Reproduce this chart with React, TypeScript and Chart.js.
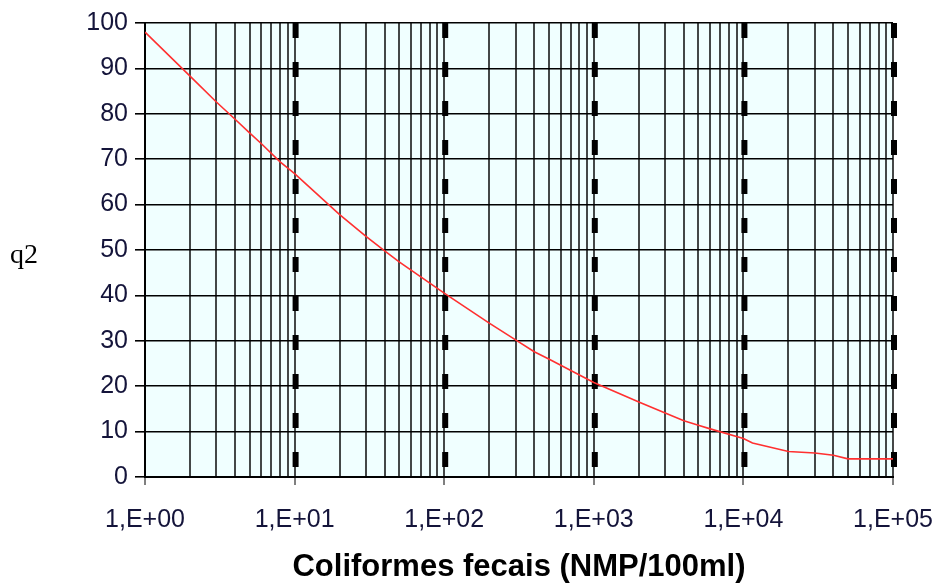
import React, { useEffect, useRef } from "react";
import { Chart, registerables } from "chart.js";

Chart.register(...registerables);

const coliformes: number[] = [1, 2, 3, 4, 5, 6, 8, 10, 20, 30, 40, 50, 100, 200, 300, 400, 500, 1000, 2000, 3000, 4000, 5000, 6000, 10000, 11500, 20000, 30000, 40000, 50000, 100000];
const q2Values: number[] = [98, 88.3, 82.6, 78.8, 75.8, 73.4, 69.4, 66.8, 57.8, 53.0, 49.8, 47.4, 40.5, 33.9, 30.2, 27.6, 26.0, 20.8, 16.5, 14.1, 12.4, 11.4, 10.6, 8.5, 7.5, 5.6, 5.3, 4.8, 4.0, 4.0];
const decades: number[] = [1, 10, 100, 1000, 10000, 100000];
const decadeLabels: string[] = ["1,E+00", "1,E+01", "1,E+02", "1,E+03", "1,E+04", "1,E+05"];
const yTicks: number[] = [0, 10, 20, 30, 40, 50, 60, 70, 80, 90, 100];
const xTitle = "Coliformes fecais (NMP/100ml)";
const yLabel = "q2";

const FONT = "'Liberation Sans', Arial, sans-serif";
const LABEL_COLOR = "#14143a";

const isDecade = (v: number) => decades.some((d) => Math.abs(d - v) < 1e-6 * d);

const bgPlugin = {
  id: "bgFill",
  beforeDraw(chart: any) {
    const { ctx, chartArea } = chart;
    ctx.save();
    ctx.fillStyle = "#f0ffff";
    ctx.fillRect(chartArea.left, chartArea.top, chartArea.right - chartArea.left, chartArea.bottom - chartArea.top);
    ctx.restore();
  },
};

const decadeDashPlugin = {
  id: "decadeDash",
  beforeDatasetsDraw(chart: any) {
    const { ctx, chartArea } = chart;
    const xs = chart.scales.x;
    ctx.save();
    ctx.strokeStyle = "#000";
    ctx.lineWidth = 6;
    ctx.setLineDash([15, 24]);
    decades.slice(1).forEach((d) => {
      const px = xs.getPixelForValue(d) + 1;
      ctx.beginPath();
      ctx.moveTo(px, chartArea.top);
      ctx.lineTo(px, chartArea.bottom);
      ctx.stroke();
    });
    ctx.restore();
  },
};

export default function App() {
  const ref = useRef<HTMLCanvasElement | null>(null);

  useEffect(() => {
    if (!ref.current) return;
    const points = coliformes.map((x, i) => ({ x, y: q2Values[i] }));
    const chart = new Chart(ref.current, {
      type: "line",
      data: {
        datasets: [
          {
            data: points,
            borderColor: "#ff3030",
            borderWidth: 1.6,
            pointRadius: 0,
            tension: 0,
            fill: false,
          },
        ],
      },
      options: {
        animation: false,
        responsive: false,
        layout: { padding: { left: 0, right: 48, top: 23, bottom: 0 } },
        plugins: { legend: { display: false }, tooltip: { enabled: false } },
        scales: {
          x: {
            type: "logarithmic",
            min: 1,
            max: 100000,
            afterBuildTicks: (scale: any) => {
              const t: any[] = [];
              for (let k = 0; k < 5; k++) {
                for (let m = 1; m <= 9; m++) t.push({ value: m * Math.pow(10, k), major: m === 1 });
              }
              t.push({ value: 100000, major: true });
              scale.ticks = t;
            },
            afterFit: (scale: any) => {
              scale.height = 111;
              scale.paddingLeft = 0;
              scale.paddingRight = 0;
            },
            ticks: {
              autoSkip: false,
              maxRotation: 0,
              minRotation: 0,
              padding: 20,
              color: LABEL_COLOR,
              font: { family: FONT, size: 25 },
              callback: (value: any) => {
                const v = Number(value);
                const idx = decades.findIndex((d) => Math.abs(d - v) < 1e-6 * d);
                return idx >= 0 ? decadeLabels[idx] : "";
              },
            },
            grid: {
              color: "rgba(0,0,0,0.72)",
              lineWidth: 2,
              tickLength: 8,
              tickWidth: 1,
              tickColor: (ctx: any) => (ctx.tick && isDecade(ctx.tick.value) ? "#000" : "rgba(0,0,0,0)"),
            },
            border: { display: true, color: "#000", width: 2 },
            title: {
              display: true,
              text: xTitle,
              color: "#000",
              font: { family: FONT, size: 31, weight: "bold" },
              padding: { top: 0, bottom: 2 },
            },
          },
          y: {
            type: "linear",
            min: 0,
            max: 100,
            afterBuildTicks: (scale: any) => {
              scale.ticks = yTicks.map((v) => ({ value: v }));
            },
            afterFit: (scale: any) => {
              scale.width = 145;
              scale.paddingTop = 0;
              scale.paddingBottom = 0;
            },
            ticks: {
              padding: 7,
              color: LABEL_COLOR,
              font: { family: FONT, size: 25 },
            },
            grid: {
              color: "#000",
              lineWidth: 1.6,
              tickLength: 10,
              tickColor: "#000",
              tickWidth: 1.6,
            },
            border: { display: true, color: "#000", width: 2 },
          },
        },
      },
      plugins: [bgPlugin, decadeDashPlugin],
    } as any);
    return () => chart.destroy();
  }, []);

  return (
    <div style={{ position: "absolute", left: 0, top: 0, width: 941, height: 588, background: "#fff" }}>
      <canvas ref={ref} width={941} height={588} style={{ position: "absolute", left: 0, top: 0 }} />
      <div
        style={{
          position: "absolute",
          left: 10,
          top: 240,
          fontFamily: "'Liberation Serif', 'Times New Roman', serif",
          fontSize: 28,
          lineHeight: "28px",
          color: "#000",
        }}
      >
        {yLabel}
      </div>
    </div>
  );
}
